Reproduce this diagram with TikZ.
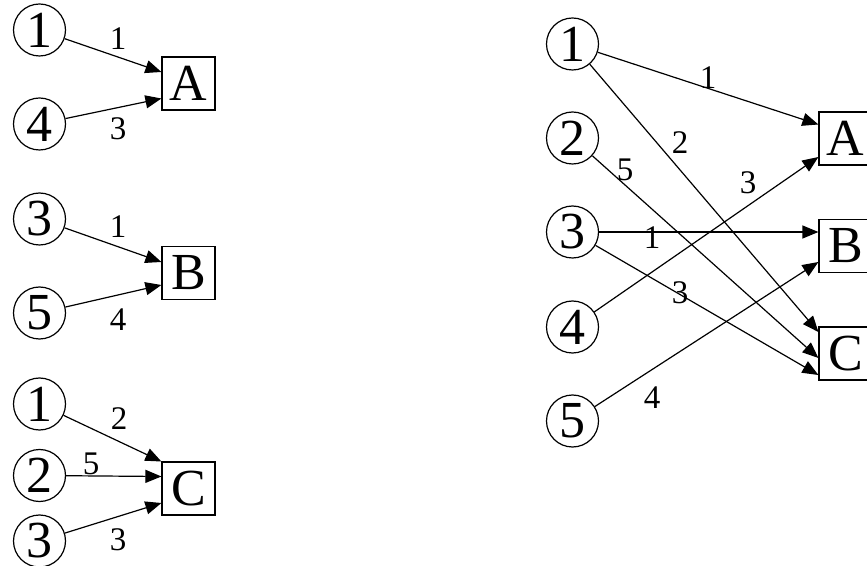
\documentclass[tikz,border=0pt]{standalone}
\usepackage{fontspec}
\setmainfont{Liberation Serif}
\usetikzlibrary{arrows.meta}
\begin{document}
\begin{tikzpicture}[x=0.5pt,y=-0.5pt,
  vertex/.style={circle,draw,line width=0.6pt,minimum size=26pt,inner sep=0pt,
    font=\fontsize{26}{26}\selectfont},
  target/.style={rectangle,draw,line width=0.6pt,minimum size=26.5pt,inner sep=0pt,
    font=\fontsize{26}{26}\selectfont},
  arr/.style={line width=0.6pt,-{Triangle[length=8pt,width=6.5pt]}},
  lbl/.style={inner sep=0pt,font=\fontsize{16.5}{16.5}\selectfont}]
\useasboundingbox (0,0) rectangle (867,566);

% ---- separate groups (left) ----
\node[vertex] (a1) at (39.5,30) {1};
\node[vertex] (a4) at (39.5,124) {4};
\node[target] (GA) at (188.5,83.5) {A};
\draw[arr] (a1) -- ([yshift=5.75pt]GA.west);
\draw[arr] (a4) -- ([yshift=-7.5pt]GA.west);
\node[lbl] (la1) at (118,39) {1};
\node[lbl] (la4) at (118,129) {3};

\node[vertex] (b3) at (39.5,219) {3};
\node[vertex] (b5) at (39.5,313) {5};
\node[target] (GB) at (188.5,273) {B};
\draw[arr] (b3) -- ([yshift=5.5pt]GB.west);
\draw[arr] (b5) -- ([yshift=-6pt]GB.west);
\node[lbl] (lb3) at (118,227) {1};
\node[lbl] (lb5) at (118,320) {4};

\node[vertex] (c1) at (39.5,404) {1};
\node[vertex] (c2) at (39.5,475.5) {2};
\node[vertex] (c3) at (39.5,541) {3};
\node[target] (GC) at (188.5,488.5) {C};
\draw[arr] (c1) -- ([yshift=13.5pt]GC.west);
\draw[arr] (c2) -- ([yshift=6pt]GC.west);
\draw[arr] (c3) -- ([yshift=-7.25pt]GC.west);
\node[lbl] (lc1) at (119,419) {2};
\node[lbl] (lc2) at (91,464) {5};
\node[lbl] (lc3) at (118,540) {3};

% ---- combined bipartite graph (right) ----
\node[vertex] (r1) at (572.5,44) {1};
\node[vertex] (r2) at (572.5,138) {2};
\node[vertex] (r3) at (572.5,232) {3};
\node[vertex] (r4) at (572.5,327) {4};
\node[vertex] (r5) at (572.5,421) {5};
\node[target] (RA) at (845.5,138.5) {A};
\node[target] (RB) at (845.5,246) {B};
\node[target] (RC) at (845.5,353.5) {C};

\draw[arr] (r1) -- ([yshift=7pt]RA.west);
\draw[arr] (r1) -- ([yshift=10.75pt]RC.west);
\draw[arr] (r2) -- ([yshift=-2.25pt]RC.west);
\draw[arr] (r3) -- ([yshift=7pt]RB.west);
\draw[arr] (r3) -- ([yshift=-10.75pt]RC.west);
\draw[arr] (r4) -- ([yshift=-9.25pt]RA.west);
\draw[arr] (r5) -- ([yshift=-8pt]RB.west);

\node[lbl] (m1) at (708,78) {1};
\node[lbl] (m2) at (680,143) {2};
\node[lbl] (m3) at (625,170) {5};
\node[lbl] (m4) at (748,183) {3};
\node[lbl] (m5) at (652,238) {1};
\node[lbl] (m6) at (680,293) {3};
\node[lbl] (m7) at (652,398) {4};
\end{tikzpicture}
\end{document}
